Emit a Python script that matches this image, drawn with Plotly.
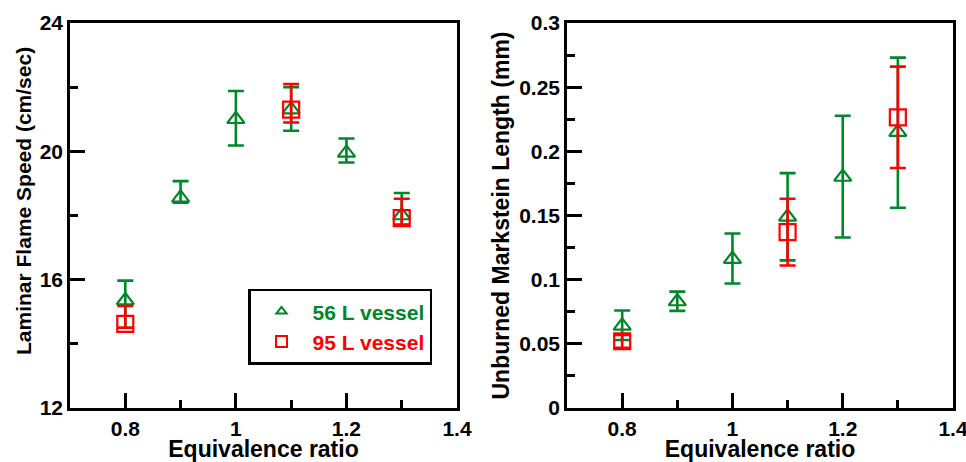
import plotly.graph_objects as go
from plotly.subplots import make_subplots

# ---- data ----
phi_56 = [0.8, 0.9, 1.0, 1.1, 1.2, 1.3]
sl_56 = [15.35, 18.55, 21.0, 21.3, 19.95, 18.0]
sl_56_up = [0.62, 0.52, 0.88, 0.7, 0.45, 0.7]
sl_56_dn = [0.85, 0.15, 0.82, 0.66, 0.3, 0.3]

phi_95 = [0.8, 1.1, 1.3]
sl_95 = [14.62, 21.3, 17.92]
sl_95_up = [0.56, 0.8, 0.6]
sl_95_dn = [0.12, 0.4, 0.2]

lb_56 = [0.064, 0.083, 0.116, 0.149, 0.180, 0.215]
lb_56_up = [0.012, 0.0077, 0.020, 0.034, 0.0477, 0.058]
lb_56_dn = [0.011, 0.0073, 0.019, 0.034, 0.0472, 0.059]

lb_95 = [0.052, 0.137, 0.2265]
lb_95_up = [0.005, 0.026, 0.0395]
lb_95_dn = [0.005, 0.026, 0.0395]

x_ticks = [0.8, 1.0, 1.2, 1.4]
x_ticktext = ["0.8", "1", "1.2", "1.4"]
x_minor = [0.9, 1.1, 1.3]
y1_ticks = [12, 16, 20, 24]
y1_minor = [14, 18, 22]
y2_ticks = [0, 0.05, 0.1, 0.15, 0.2, 0.25, 0.3]
y2_ticktext = ["0", "0.05", "0.1", "0.15", "0.2", "0.25", "0.3"]
y2_minor = [0.025, 0.075, 0.125, 0.175, 0.225, 0.275]

GREEN = "rgb(0,135,40)"
RED = "rgb(255,0,0)"
FONT = "Liberation Sans"

fig = make_subplots(rows=1, cols=2, horizontal_spacing=0.1245)


def add_series(x, y, up, dn, color, symbol, size, col):
    fig.add_trace(go.Scatter(
        x=x, y=y, mode="markers", showlegend=False,
        marker=dict(symbol=symbol, size=size, color=color,
                    line=dict(color=color, width=2.2)),
        error_y=dict(type="data", symmetric=False, array=up, arrayminus=dn,
                     color=color, thickness=2.6, width=8),
        cliponaxis=False,
    ), row=1, col=col)


add_series(phi_56, sl_56, sl_56_up, sl_56_dn, GREEN, "triangle-up-open", 15, 1)
add_series(phi_95, sl_95, sl_95_up, sl_95_dn, RED, "square-open", 16, 1)
add_series(phi_56, lb_56, lb_56_up, lb_56_dn, GREEN, "triangle-up-open", 15, 2)
add_series(phi_95, lb_95, lb_95_up, lb_95_dn, RED, "square-open", 16, 2)

# legend entries
fig.add_trace(go.Scatter(
    x=[None], y=[None], mode="markers",
    name="<span style='color:%s'>56 L vessel</span>" % GREEN,
    marker=dict(symbol="triangle-up-open", size=9, color=GREEN,
                line=dict(color=GREEN, width=2)),
), row=1, col=1)
fig.add_trace(go.Scatter(
    x=[None], y=[None], mode="markers",
    name="<span style='color:%s'>95 L vessel</span>" % RED,
    marker=dict(symbol="square-open", size=11, color=RED,
                line=dict(color=RED, width=2)),
), row=1, col=1)

axis_common = dict(
    showline=True, linecolor="black", linewidth=2.6, mirror=True,
    ticks="inside", ticklen=15, tickwidth=2.6, tickcolor="black",
    showgrid=False, zeroline=False, automargin=False,
    tickfont=dict(family=FONT, size=21, color="black", weight="bold"),
)
minor_common = dict(ticks="inside", ticklen=8, tickwidth=2.6, tickcolor="black", showgrid=False)
TITLE_FONT = dict(family=FONT, size=23, color="black", weight="bold")
TITLE_FONT_L = dict(family=FONT, size=21, color="black", weight="bold")

for c in (1, 2):
    fig.update_xaxes(
        range=[0.7, 1.4], tickmode="array", tickvals=x_ticks, ticktext=x_ticktext,
        ticklabeloverflow="allow",
        minor=dict(tickmode="array", tickvals=x_minor, **minor_common),
        title=dict(text="Equivalence ratio", standoff=6, font=TITLE_FONT),
        row=1, col=c, **axis_common)

fig.update_yaxes(
    range=[12, 24], tickmode="array", tickvals=y1_ticks,
    minor=dict(tickmode="array", tickvals=y1_minor, **minor_common),
    row=1, col=1, **axis_common)
fig.update_yaxes(
    range=[0, 0.3], tickmode="array", tickvals=y2_ticks, ticktext=y2_ticktext,
    minor=dict(tickmode="array", tickvals=y2_minor, **minor_common),
    title=dict(text="Unburned Markstein Length (mm)", standoff=4, font=TITLE_FONT),
    row=1, col=2, **axis_common)

fig.add_annotation(
    text="Laminar Flame Speed (cm/sec)", textangle=-90,
    xref="paper", yref="paper", x=-0.0521, y=0.5377,
    xanchor="center", yanchor="middle", showarrow=False,
    font=TITLE_FONT_L,
)

fig.update_layout(
    width=966, height=462,
    margin=dict(l=70, r=13, t=23, b=54),
    paper_bgcolor="white", plot_bgcolor="white",
    showlegend=True,
    legend=dict(x=0.2016, y=0.31, xanchor="left", yanchor="top",
                bgcolor="white", bordercolor="black", borderwidth=2.5,
                font=dict(family=FONT, size=21, weight="bold"),
                tracegroupgap=0, itemwidth=52),
)
fig.update_xaxes(domain=[0, 0.4383], row=1, col=1)
fig.update_xaxes(domain=[0.5629, 1.0], row=1, col=2)

fig.write_html("out.html")
